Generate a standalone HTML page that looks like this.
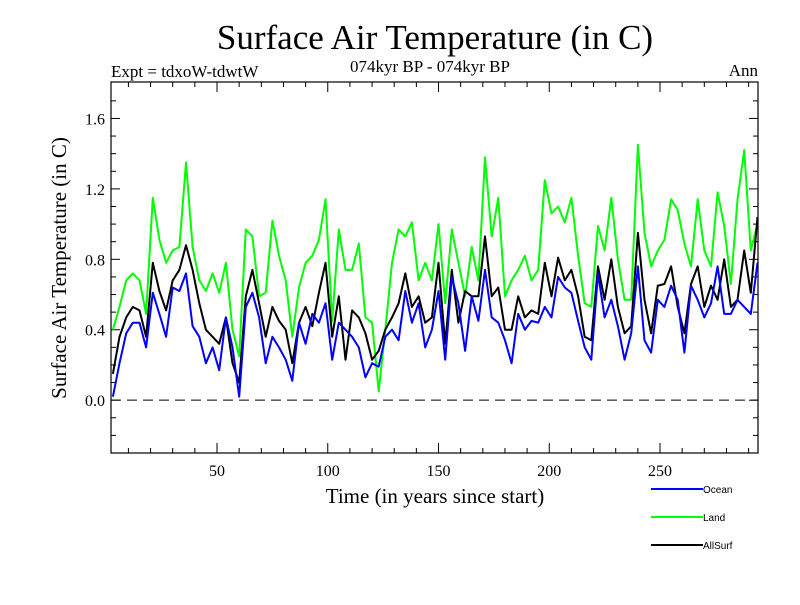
<!DOCTYPE html>
<html><head><meta charset="utf-8"><style>
body{margin:0;background:#fff;}
svg text{font-family:"Liberation Serif",serif;}
</style></head><body>
<svg id="chart" width="800" height="600" viewBox="0 0 800 600" xmlns="http://www.w3.org/2000/svg">
<rect x="0" y="0" width="800" height="600" fill="#fff"/>
<text x="435" y="49" font-size="35" text-anchor="middle">Surface Air Temperature (in C)</text>
<text x="111" y="77" font-size="17">Expt = tdxoW-tdwtW</text>
<text x="430" y="72" font-size="17" text-anchor="middle">074kyr BP - 074kyr BP</text>
<text x="758" y="76" font-size="17" text-anchor="end">Ann</text>
<text x="0" y="0" font-size="21" text-anchor="middle" transform="translate(66,268) rotate(-90)">Surface Air Temperature (in C)</text>
<text x="435" y="503" font-size="21" text-anchor="middle">Time (in years since start)</text>
<g id="axes"></g>
<g id="series"></g>
<rect x="111" y="82" width="647" height="371" fill="none" stroke="#000" stroke-width="1.2"/>
<g>
<g><line x1="651" y1="489" x2="703" y2="489" stroke="#0000ff" stroke-width="2"/><text x="703" y="493" font-size="10" style="font-family:'Liberation Sans',sans-serif">Ocean</text></g>
<g><line x1="651" y1="517" x2="703" y2="517" stroke="#00ff00" stroke-width="2"/><text x="703" y="521" font-size="10" style="font-family:'Liberation Sans',sans-serif">Land</text></g>
<g><line x1="651" y1="545" x2="703" y2="545" stroke="#000" stroke-width="2"/><text x="703" y="549" font-size="10" style="font-family:'Liberation Sans',sans-serif">AllSurf</text></g>
</g>
</svg>
<script>
const years = [];
for (let y = 3; y <= 294; y += 3) years.push(y);
const landValues = [0.40,0.53,0.68,0.72,0.68,0.49,1.15,0.91,0.78,0.85,0.87,1.35,0.87,0.68,0.62,0.72,0.61,0.78,0.40,0.25,0.97,0.93,0.59,0.61,
1.02,0.82,0.68,0.36,0.64,0.78,0.82,0.91,1.14,0.45,0.97,0.74,0.74,0.89,0.47,0.44,0.05,0.40,0.78,0.97,0.93,1.01,0.68,0.78,
0.68,1.00,0.55,0.97,0.78,0.59,0.87,0.68,1.38,0.93,1.15,0.59,0.68,0.74,0.82,0.68,0.74,1.25,1.06,1.10,1.01,1.15,0.82,0.55,
0.53,0.99,0.85,1.15,0.80,0.57,0.57,1.45,0.95,0.76,0.85,0.91,1.14,1.08,0.89,0.76,1.14,0.85,0.76,1.18,0.99,0.66,1.14,1.42,0.85,1.00];
const oceanValues = [0.02,0.21,0.38,0.44,0.44,0.30,0.61,0.49,0.36,0.64,0.62,0.72,0.42,0.36,0.21,0.30,0.17,0.47,0.30,0.02,0.53,0.61,0.47,0.21,
0.36,0.30,0.23,0.11,0.44,0.32,0.49,0.44,0.55,0.23,0.44,0.40,0.36,0.30,0.13,0.21,0.19,0.36,0.40,0.34,0.62,0.44,0.55,0.30,
0.40,0.62,0.23,0.70,0.55,0.28,0.59,0.45,0.74,0.47,0.44,0.34,0.21,0.49,0.40,0.45,0.44,0.53,0.47,0.70,0.64,0.61,0.45,0.30,
0.23,0.72,0.47,0.57,0.42,0.23,0.38,0.76,0.34,0.27,0.57,0.53,0.65,0.57,0.27,0.65,0.57,0.47,0.55,0.76,0.49,0.49,0.57,0.53,0.49,0.78];
const allSurfValues = [0.15,0.36,0.47,0.53,0.51,0.36,0.78,0.62,0.51,0.68,0.74,0.88,0.74,0.55,0.40,0.36,0.32,0.47,0.21,0.10,0.59,0.74,0.55,0.36,
0.53,0.45,0.40,0.21,0.44,0.53,0.42,0.61,0.78,0.36,0.59,0.23,0.51,0.47,0.38,0.23,0.28,0.40,0.47,0.55,0.72,0.53,0.59,0.44,
0.47,0.78,0.32,0.74,0.44,0.62,0.59,0.59,0.93,0.59,0.64,0.40,0.40,0.59,0.47,0.51,0.49,0.78,0.59,0.81,0.68,0.74,0.59,0.36,
0.34,0.76,0.57,0.80,0.53,0.38,0.42,0.95,0.57,0.38,0.65,0.66,0.76,0.53,0.38,0.66,0.76,0.53,0.65,0.57,0.80,0.53,0.57,0.85,0.61,1.04];
const yTickLabels = ["0.0","0.4","0.8","1.2","1.6"];
const xTickLabels = ["50","100","150","200","250"];

const NS = "http://www.w3.org/2000/svg";
const L = 111, R = 758, T = 82, B = 453;
const xMin = 2.14, xMax = xMin + (R - L) / 2.215;
const yMin = -0.3, yMax = 1.807;
function xs(v){ return L + (v - xMin) / (xMax - xMin) * (R - L); }
function ys(v){ return B - (v - yMin) / (yMax - yMin) * (B - T); }
function mk(tag, attrs, parent){ const e = document.createElementNS(NS, tag); for (const k in attrs) e.setAttribute(k, attrs[k]); parent.appendChild(e); return e; }

const axes = document.getElementById('axes');
for (let i = -2; i <= 17; i++) {
  const v = i / 10, y = ys(v);
  if (y < T || y > B) continue;
  const major = i % 4 === 0, len = major ? 9 : 5;
  const t1 = mk('line', {x1:L, y1:y, x2:L+len, y2:y, stroke:'#000'}, axes);
  
  
  const t2 = mk('line', {x1:R, y1:y, x2:R-len, y2:y, stroke:'#000'}, axes);
  
  
}
yTickLabels.forEach(s => {
  const t = mk('text', {x:L-6, y:ys(parseFloat(s))+6, 'font-size':16, 'text-anchor':'end'}, axes);
  t.textContent = s;
  
  
});
for (let v = 10; v <= 290; v += 10) {
  const x = xs(v), major = v % 50 === 0, len = major ? 10 : 5;
  const t1 = mk('line', {x1:x, y1:B, x2:x, y2:B-len, stroke:'#000'}, axes);
  
  
  const t2 = mk('line', {x1:x, y1:T, x2:x, y2:T+len, stroke:'#000'}, axes);
  
  
}
xTickLabels.forEach(s => {
  const t = mk('text', {x:xs(parseFloat(s)), y:B+23, 'font-size':16, 'text-anchor':'middle'}, axes);
  t.textContent = s;
  
  
});
const zl = mk('line', {x1:L, y1:ys(0), x2:R, y2:ys(0), stroke:'#000', 'stroke-dasharray':'10 6'}, axes);



const series = document.getElementById('series');
function draw(vals, color, name){
  const d = vals.map((v,i) => (i ? 'L' : 'M') + xs(years[i]).toFixed(1) + ' ' + ys(v).toFixed(1)).join(' ');
  const p = mk('path', {d:d, fill:'none', stroke:color, 'stroke-width':2, 'stroke-linejoin':'round'}, series);
  
  
}
draw(landValues, '#00ff00', 'land-line');
draw(allSurfValues, '#000000', 'allsurf-line');
draw(oceanValues, '#0000ff', 'ocean-line');
</script>
</body></html>
